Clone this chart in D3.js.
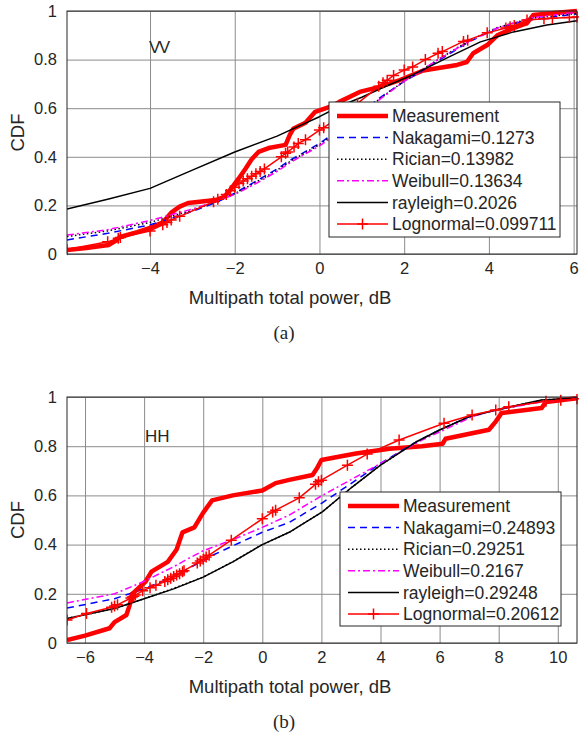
<!DOCTYPE html>
<html>
<head>
<meta charset="utf-8">
<script src="https://cdn.jsdelivr.net/npm/d3@7"></script>
<style>
  body { margin: 0; background: #fff; }
  svg text { font-family: "Liberation Sans", Arial, sans-serif; fill: #262626; }
</style>
</head>
<body>
<div id="chart"></div>
<script>
// ---- data ----
const yTicks = [0, 0.2, 0.4, 0.6, 0.8, 1];
const yTickLabels = ["0", "0.2", "0.4", "0.6", "0.8", "1"];

// (a) VV
const vvDomain = [-5.96, 6.08];
const vvTicks = [-4, -2, 0, 2, 4, 6];
const vvLegend = ["Measurement", "Nakagami=0.1273", "Rician=0.13982", "Weibull=0.13634", "rayleigh=0.2026", "Lognormal=0.099711"];
const vvMeasurement = [[-5.96,0.016],[-5.5,0.025],[-4.98,0.037],[-4.8,0.055],[-4.71,0.07],[-4.3,0.09],[-4.0,0.107],[-3.7,0.13],[-3.5,0.17],[-3.3,0.195],[-3.1,0.21],[-2.45,0.222],[-2.25,0.235],[-2.08,0.27],[-1.91,0.31],[-1.75,0.35],[-1.6,0.39],[-1.44,0.42],[-1.2,0.436],[-0.8,0.449],[-0.7,0.49],[-0.62,0.515],[-0.33,0.54],[-0.1,0.585],[0.24,0.605],[0.47,0.626],[0.95,0.667],[1.4,0.687],[1.9,0.716],[2.45,0.755],[3.25,0.778],[3.48,0.79],[3.63,0.826],[3.96,0.86],[4.2,0.9],[4.58,0.93],[4.9,0.95],[5.05,0.984],[5.6,0.993],[6.08,1.0]];
const vvNakagami = [[-5.96,0.058],[-5,0.085],[-4,0.12],[-3,0.175],[-2.4,0.215],[-2,0.25],[-1.5,0.3],[-1,0.35],[-0.7,0.385],[0,0.455],[0.5,0.515],[1,0.585],[1.45,0.646],[2,0.71],[2.2,0.73],[2.8,0.795],[3.5,0.87],[4.2,0.93],[5,0.965],[6.08,0.988]];
const vvRician = [[-5.96,0.072],[-5,0.095],[-4,0.13],[-3,0.18],[-2.4,0.218],[-2,0.248],[-1.5,0.295],[-1,0.345],[-0.7,0.38],[0,0.45],[0.5,0.51],[1,0.58],[1.45,0.642],[2,0.712],[2.8,0.8],[3.5,0.875],[4.2,0.932],[5,0.97],[6.08,0.99]];
const vvWeibull = [[-5.96,0.078],[-5,0.1],[-4,0.138],[-3,0.185],[-2.4,0.22],[-2,0.245],[-1.5,0.29],[-1,0.34],[-0.7,0.375],[0,0.445],[0.5,0.505],[1,0.575],[1.45,0.64],[2,0.71],[2.8,0.8],[3.5,0.872],[4.2,0.93],[5,0.972],[6.08,0.995]];
const vvRayleigh = [[-5.96,0.185],[-5,0.225],[-4,0.27],[-3,0.345],[-2,0.42],[-1,0.485],[-0.5,0.525],[0,0.565],[0.5,0.61],[1,0.645],[1.5,0.685],[2.2,0.737],[3,0.806],[3.8,0.873],[4.58,0.914],[5.37,0.942],[6.08,0.96]];
const vvLognormal = [[-5.96,0.018],[-5.0,0.05],[-4.75,0.065],[-4.7,0.068],[-4.0,0.095],[-3.7,0.12],[-3.6,0.13],[-3.5,0.14],[-3.3,0.155],[-2.5,0.215],[-2.4,0.225],[-2.2,0.245],[-2.1,0.26],[-2.0,0.275],[-1.9,0.29],[-1.8,0.3],[-1.7,0.31],[-1.6,0.32],[-1.5,0.33],[-1.4,0.34],[-1.3,0.35],[-0.9,0.4],[-0.8,0.415],[-0.75,0.42],[-0.6,0.44],[-0.5,0.455],[-0.33,0.47],[0.0,0.51],[0.1,0.52],[0.6,0.58],[0.9,0.62],[1.4,0.69],[1.5,0.705],[1.6,0.715],[1.75,0.735],[2.0,0.757],[2.2,0.77],[2.5,0.8],[2.8,0.826],[2.9,0.833],[3.4,0.875],[3.5,0.88],[3.96,0.91],[4.4,0.93],[4.5,0.935],[4.6,0.94],[4.9,0.963],[5.3,0.968],[5.5,0.97],[5.9,0.973],[6.08,0.975]];

// (b) HH
const hhDomain = [-6.61, 10.65];
const hhTicks = [-6, -4, -2, 0, 2, 4, 6, 8, 10];
const hhLegend = ["Measurement", "Nakagami=0.24893", "Rician=0.29251", "Weibull=0.2167", "rayleigh=0.29248", "Lognormal=0.20612"];
const hhMeasurement = [[-6.61,0.012],[-6,0.03],[-5.17,0.06],[-5.0,0.085],[-4.6,0.114],[-4.5,0.15],[-4.4,0.2],[-3.95,0.25],[-3.75,0.29],[-3.2,0.33],[-2.9,0.38],[-2.7,0.45],[-2.3,0.47],[-2.0,0.53],[-1.7,0.58],[-1.0,0.6],[0,0.62],[0.45,0.65],[0.91,0.663],[1.7,0.683],[1.85,0.71],[2.0,0.744],[3.17,0.77],[4.3,0.79],[5.4,0.8],[6.1,0.81],[6.2,0.83],[7.67,0.867],[7.9,0.9],[8.1,0.935],[9.45,0.955],[9.6,0.98],[10.65,0.995]];
const hhNakagami = [[-6.61,0.142],[-5,0.18],[-4,0.22],[-3,0.27],[-2.6,0.297],[-2,0.335],[-1.8,0.35],[-1,0.395],[0,0.45],[0.91,0.49],[2.03,0.57],[3.17,0.662],[4,0.73],[5.2,0.817],[6,0.866],[7,0.92],[7.9,0.947],[9.45,0.985],[10.65,0.995]];
const hhRician = [[-6.61,0.1],[-5,0.14],[-4,0.18],[-3,0.222],[-2,0.268],[-1,0.33],[0,0.4],[0.91,0.45],[1.25,0.475],[2.03,0.533],[3.04,0.634],[4,0.723],[5.2,0.817],[6,0.866],[7,0.92],[7.9,0.947],[9.45,0.988],[10.65,0.995]];
const hhWeibull = [[-6.61,0.163],[-5,0.2],[-4.05,0.248],[-3,0.31],[-2.6,0.337],[-2,0.375],[-1,0.42],[0,0.47],[0.91,0.52],[2.03,0.6],[3.17,0.675],[4,0.73],[5.4,0.825],[6.15,0.866],[7.1,0.92],[7.9,0.947],[9.45,0.98],[10.65,0.993]];
const hhRayleigh = [[-6.61,0.1],[-5,0.14],[-4,0.18],[-3,0.22],[-2,0.268],[-1,0.33],[0,0.4],[0.91,0.45],[1.25,0.475],[2.03,0.533],[3.04,0.634],[4,0.723],[5.2,0.817],[6,0.866],[7,0.92],[7.9,0.947],[9.45,0.988],[10.65,0.995]];
const hhLognormal = [[-6.61,0.093],[-5.95,0.12],[-5.1,0.145],[-5.0,0.15],[-4.9,0.155],[-4.45,0.183],[-4.4,0.187],[-4.35,0.19],[-4.3,0.195],[-4.05,0.212],[-3.8,0.225],[-3.6,0.235],[-3.3,0.25],[-3.2,0.257],[-3.1,0.263],[-3.0,0.27],[-2.9,0.276],[-2.8,0.282],[-2.7,0.29],[-2.65,0.294],[-2.2,0.325],[-2.1,0.333],[-2.0,0.34],[-1.9,0.35],[-1.8,0.357],[-1.05,0.418],[0.0,0.505],[0.35,0.533],[0.45,0.54],[1.25,0.59],[1.8,0.645],[1.9,0.655],[2.0,0.662],[2.88,0.723],[3.55,0.768],[4.63,0.825],[6.15,0.893],[7.1,0.927],[7.9,0.947],[8.34,0.96],[9.6,0.983],[10.1,0.987],[10.65,0.993]];

const w = 580, h = 734;

const styles = [
  { color: "#ff0000", width: 4.5, dash: null },
  { color: "#0000ff", width: 1.5, dash: "7,5" },
  { color: "#000000", width: 1.5, dash: "1.5,2.5" },
  { color: "#ff00ff", width: 1.5, dash: "7,3,2,3" },
  { color: "#000000", width: 1.5, dash: null },
  { color: "#ff0000", width: 1.5, dash: null, marker: true }
];

const svg = d3.select("#chart").append("svg")
  .attr("width", w)
  .attr("height", h);

function plus(x, y, s) {
  return `M${x - s},${y}H${x + s}M${x},${y - s}V${y + s}`;
}

function drawPanel(p) {
  const x = d3.scaleLinear().domain(p.domain).range([p.left, p.right]);
  const y = d3.scaleLinear().domain([0, 1]).range([p.bottom, p.top]);
  const g = svg.append("g");

  // grid
  g.append("g")
    .attr("transform", `translate(0,${p.bottom})`)
    .call(d3.axisBottom(x).tickValues(p.ticks).tickSize(-(p.bottom - p.top)).tickFormat(""))
    .call(a => a.select(".domain").remove())
    .call(a => a.selectAll("line").attr("stroke", "#8c8c8c").attr("stroke-width", 1));
  g.append("g")
    .attr("transform", `translate(${p.left},0)`)
    .call(d3.axisLeft(y).tickValues(yTicks).tickSize(-(p.right - p.left)).tickFormat(""))
    .call(a => a.select(".domain").remove())
    .call(a => a.selectAll("line").attr("stroke", "#8c8c8c").attr("stroke-width", 1));

  // clip
  const clipId = "clip-" + p.id;
  svg.append("clipPath").attr("id", clipId)
    .append("rect")
    .attr("x", p.left).attr("y", p.top - 3)
    .attr("width", p.right - p.left + 2).attr("height", p.bottom - p.top + 6);

  const line = d3.line().x(d => x(d[0])).y(d => y(d[1]));
  const plot = g.append("g").attr("clip-path", `url(#${clipId})`);

  p.series.forEach((s, i) => {
    const st = styles[i];
    plot.append("path")
      .datum(s)
      .attr("fill", "none")
      .attr("stroke", st.color)
      .attr("stroke-width", st.width)
      .attr("stroke-dasharray", st.dash)
      .attr("stroke-linejoin", "round")
      .attr("d", line);
    if (st.marker) {
      plot.selectAll(null)
        .data(s)
        .enter()
        .append("path")
        .attr("d", d => plus(x(d[0]), y(d[1]), 5.5))
        .attr("stroke", st.color)
        .attr("stroke-width", 1.5)
        .attr("fill", "none");
    }
  });

  // box
  g.append("rect")
    .attr("x", p.left).attr("y", p.top)
    .attr("width", p.right - p.left).attr("height", p.bottom - p.top)
    .attr("fill", "none").attr("stroke", "#262626").attr("stroke-width", 1);

  // tick labels
  const xa = g.append("g")
    .attr("transform", `translate(0,${p.bottom})`)
    .call(d3.axisBottom(x).tickValues(p.ticks).tickSize(0).tickPadding(8).tickFormat(d3.format("d")));
  xa.select(".domain").remove();
  xa.selectAll("text").attr("font-size", 16.5).attr("font-family", "Liberation Sans, Arial, sans-serif").attr("fill", "#262626");

  const ya = g.append("g")
    .attr("transform", `translate(${p.left},0)`)
    .call(d3.axisLeft(y).tickValues(yTicks).tickSize(0).tickPadding(10).tickFormat((d, i) => yTickLabels[i]));
  ya.select(".domain").remove();
  ya.selectAll("text").attr("font-size", 16.5).attr("font-family", "Liberation Sans, Arial, sans-serif").attr("fill", "#262626");

  // axis titles
  g.append("text")
    .attr("x", 290).attr("y", p.bottom + 50)
    .attr("text-anchor", "middle").attr("font-size", 18.5)
    .text("Multipath total power, dB");
  g.append("text")
    .attr("transform", `translate(24,${(p.top + p.bottom) / 2}) rotate(-90)`)
    .attr("text-anchor", "middle").attr("font-size", 18.5)
    .text("CDF");
  g.append("text")
    .attr("x", 284).attr("y", p.bottom + 85)
    .attr("text-anchor", "middle").attr("font-size", 19)
    .style("font-family", "'Liberation Serif', 'Times New Roman', serif")
    .text(p.caption);

  // annotation
  g.append("text")
    .attr("x", p.tag[0]).attr("y", p.tag[1])
    .attr("font-size", 17)
    .attr("letter-spacing", p.tagSpacing)
    .text(p.tagText);

  // legend
  const L = p.legend;
  const lg = g.append("g");
  lg.append("rect")
    .attr("x", L.x).attr("y", L.y).attr("width", L.w).attr("height", L.h)
    .attr("fill", "#fff").attr("stroke", "#262626").attr("stroke-width", 1);
  p.labels.forEach((lab, i) => {
    const st = styles[i];
    const cy = L.y + 14 + i * 21.6;
    lg.append("line")
      .attr("x1", L.x + 8).attr("x2", L.x + 59)
      .attr("y1", cy).attr("y2", cy)
      .attr("stroke", st.color).attr("stroke-width", st.width)
      .attr("stroke-dasharray", st.dash);
    if (st.marker) {
      lg.append("path")
        .attr("d", plus(L.x + 33.5, cy, 5.5))
        .attr("stroke", st.color).attr("stroke-width", 1.5);
    }
    lg.append("text")
      .attr("x", L.x + 63).attr("y", cy)
      .attr("dy", "0.35em")
      .attr("font-size", 17.5)
      .text(lab);
  });
}

drawPanel({
  id: "vv", left: 67, right: 577, top: 11, bottom: 254,
  domain: vvDomain, ticks: vvTicks, caption: "(a)",
  tag: [149, 53], tagText: "VV", tagSpacing: -1.5,
  legend: { x: 329, y: 102, w: 231, h: 135 },
  labels: vvLegend,
  series: [vvMeasurement, vvNakagami, vvRician, vvWeibull, vvRayleigh, vvLognormal]
});

drawPanel({
  id: "hh", left: 67, right: 577, top: 397, bottom: 643,
  domain: hhDomain, ticks: hhTicks, caption: "(b)",
  tag: [145, 442], tagText: "HH", tagSpacing: 0,
  legend: { x: 340, y: 492, w: 221, h: 134 },
  labels: hhLegend,
  series: [hhMeasurement, hhNakagami, hhRician, hhWeibull, hhRayleigh, hhLognormal]
});
</script>
</body>
</html>
